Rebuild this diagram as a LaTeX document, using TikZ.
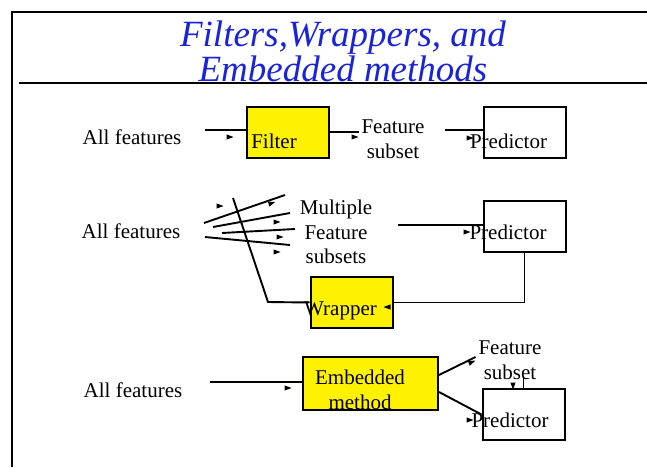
\documentclass[tikz,border=0pt]{standalone}
\usepackage{fontspec}
\setmainfont{Liberation Serif}
\usetikzlibrary{arrows,shapes,positioning}
\definecolor{titleblue}{RGB}{25,35,220}

\begin{document}
\begin{tikzpicture}[x=1pt, y=-1pt,
        every node/.style={font=\fontsize{21}{24.5}\selectfont, align=center, inner sep=2pt},
        every path/.style={line width=1.9pt},
        box/.style={draw, line width=2pt, minimum width=82pt, minimum height=51pt, inner sep=0pt},
        hot/.style={box, fill=yellow},
        arrowmark/.pic={\fill (-3.5,-2.6) -- (3.5,0) -- (-3.5,2.6) -- cycle;}
    ]

    \useasboundingbox (0,0) rectangle (647,467);

    % Frame
    \draw[line width=2pt] (12,467) -- (12,12) -- (647,12);
    \draw[line width=2pt] (19,83) -- (647,83);

    % Nodes
    \node (title) at (343,51) [font=\fontsize{37}{35}\selectfont\itshape, text=titleblue, inner sep=0pt]
        {Filters,Wrappers, and\\Embedded methods};

    \node (all1) at (132,137) {All features};
    \node (filter) at (287.5,132) [hot, label={[xshift=-13.5pt,yshift=-9pt]center:Filter}] {};
    \node (sub1) at (393,139) {Feature\\subset};
    \node (pred1) at (525,132) [box, label={[xshift=-16.5pt,yshift=-9pt]center:Predictor}] {};

    \node (all2) at (131,231) {All features};
    \node (multi) at (336,232) {Multiple\\Feature\\subsets};
    \node (pred2) at (524.5,226.5) [box, label={[xshift=-16.5pt,yshift=-6pt]center:Predictor}] {};
    \node (wrapper) at (351.5,302.5) [hot, label={[xshift=-11pt,yshift=-8pt]center:Wrapper}] {};

    \node (all3) at (133,390) {All features};
    \node (embed) at (370.5,383.5) [hot, minimum width=135pt, minimum height=53pt,
        label={[xshift=-10.5pt,yshift=-6.5pt]center:{Embedded\\method}}] {};
    \node (sub3) at (510,360) {Feature\\subset};
    \node (pred3) at (523.5,414.5) [box, label={[xshift=-13.5pt,yshift=-5.5pt]center:Predictor}] {};

    \coordinate (in1) at (205,130);
    \coordinate (out1) at (445,130);
    \coordinate (in2) at (233,198);
    \coordinate (out2) at (398,225);
    \coordinate (in3) at (210,382);

    % Edges
    \draw (in1) -- (in1 -| filter.west);
    \draw (filter.east) -- (filter.east -| sub1.west);
    \draw (out1) -- (out1 -| pred1.west);

    \draw (204,223) -- (285,195);
    \draw (213,227) -- (290,213);
    \draw (222,233) -- (295,229);
    \draw (205,237) -- (290,245);
    \draw (in2) -- (268,302) -- (wrapper.west);
    \draw (out2) -- (out2 -| pred2.west);
    \draw (wrapper.east) -| (pred2.south);

    \draw (in3) -- (in3 -| embed.west);
    \draw ([yshift=8.5pt]embed.east) -- ([yshift=3pt]sub3.west);
    \draw ([yshift=-8.5pt]embed.east) -- (pred3.west);
    \draw (pred3.north) -- ++(0,-10);

    % Arrow marks
    \pic at (230,137) {arrowmark};
    \pic at (355,137) {arrowmark};
    \pic at (470,138) {arrowmark};

    \pic at (220,206) {arrowmark};
    \pic[rotate=19] at (272,203) {arrowmark};
    \pic at (277,222) {arrowmark};
    \pic at (280,237) {arrowmark};
    \pic at (277,252) {arrowmark};
    \pic[rotate=180] at (387,307) {arrowmark};
    \pic at (467,232) {arrowmark};

    \pic at (288,388) {arrowmark};
    \pic[rotate=23] at (472,362) {arrowmark};
    \pic at (470,420) {arrowmark};
    \pic[rotate=-90] at (513,386) {arrowmark};

\end{tikzpicture}
\end{document}
